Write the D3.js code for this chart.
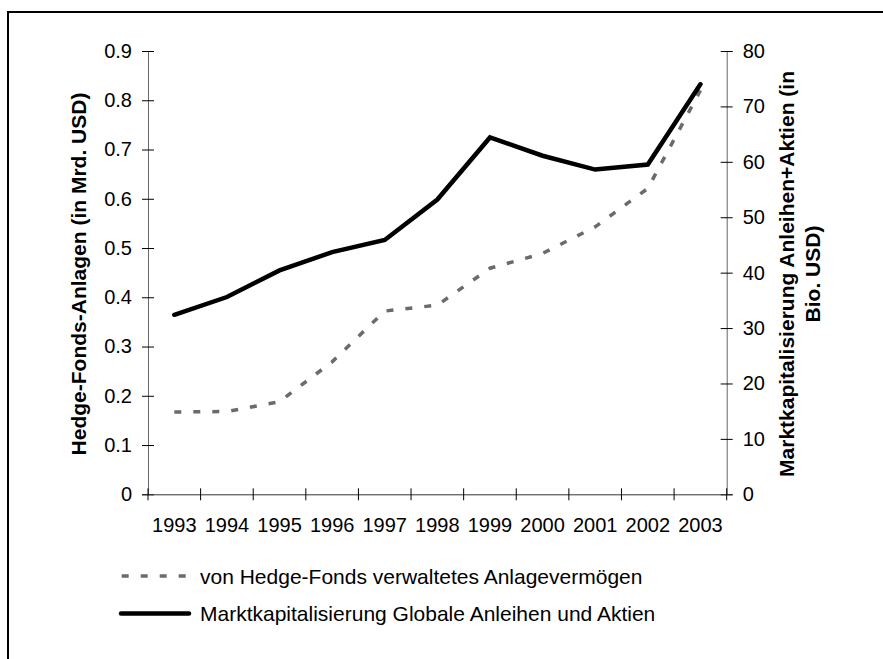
<!DOCTYPE html>
<html>
<head>
<meta charset="utf-8">
<script src="https://cdn.jsdelivr.net/npm/d3@7"></script>
<style>
  html, body { margin: 0; padding: 0; background: #fff; }
  svg { display: block; }
  text { font-family: Arial, "Liberation Sans", sans-serif; fill: #000; }
</style>
</head>
<body>
<svg id="chart" width="883" height="659"></svg>
<script>
// ---- data ----
const years = ["1993","1994","1995","1996","1997","1998","1999","2000","2001","2002","2003"];
const hedgeFunds = [0.167, 0.168, 0.188, 0.269, 0.372, 0.384, 0.459, 0.489, 0.543, 0.621, 0.82];
const marketCap = [32.4, 35.6, 40.4, 43.7, 45.9, 53.2, 64.4, 61.1, 58.6, 59.5, 74.0];
const leftTicks = [0, 0.1, 0.2, 0.3, 0.4, 0.5, 0.6, 0.7, 0.8, 0.9];
const rightTicks = [0, 10, 20, 30, 40, 50, 60, 70, 80];
const leftTitle = "Hedge-Fonds-Anlagen (in Mrd. USD)";
const rightTitle = ["Marktkapitalisierung Anleihen+Aktien (in", "Bio. USD)"];
const legendLabels = ["von Hedge-Fonds verwaltetes Anlagevermögen", "Marktkapitalisierung Globale Anleihen und Aktien"];

// ---- layout ----
const svg = d3.select("#chart");
const L = 148, R = 726.7, T = 51, B = 494.3;

const x = d3.scaleBand().domain(years).range([L, R]).padding(0);
const yL = d3.scaleLinear().domain([0, 0.9]).range([B, T]);
const yR = d3.scaleLinear().domain([0, 80]).range([B, T]);

// frame
svg.append("path")
  .attr("d", `M8,659 L8,12 L883,12`)
  .attr("fill", "none").attr("stroke", "#000").attr("stroke-width", 2);

// left axis
const gl = svg.append("g").attr("transform", `translate(${L},0)`)
  .call(d3.axisLeft(yL).tickValues(leftTicks).tickSize(6).tickPadding(10)
    .tickFormat(d => d === 0 ? "0" : d3.format(".1f")(d)));
gl.select(".domain").attr("stroke", "#666");
gl.selectAll(".tick line").attr("x1", 6).attr("stroke", "#000");
gl.selectAll(".tick text").style("font-size", "20px").attr("fill", "#000");

// right axis
const gr = svg.append("g").attr("transform", `translate(${R},0)`)
  .call(d3.axisRight(yR).tickValues(rightTicks).tickSize(6).tickPadding(10));
gr.select(".domain").attr("stroke", "#666");
gr.selectAll(".tick line").attr("x1", -6).attr("stroke", "#000");
gr.selectAll(".tick text").style("font-size", "20px").attr("fill", "#000");

// bottom axis (labels centred in categories, ticks between categories)
const gb = svg.append("g").attr("transform", `translate(0,${B})`)
  .call(d3.axisBottom(x).tickSize(0).tickPadding(24));
gb.select(".domain").attr("stroke", "#333");
gb.selectAll(".tick text").style("font-size", "20px").attr("fill", "#000");
const edges = years.map(y => x(y)).concat([x(years[years.length - 1]) + x.bandwidth()]);
gb.selectAll(".edge").data(edges).enter().append("line")
  .attr("class", "edge")
  .attr("x1", d => d).attr("x2", d => d)
  .attr("y1", -6).attr("y2", 6)
  .attr("stroke", "#000");

// axis titles
svg.append("text")
  .attr("transform", `translate(86,274) rotate(-90)`)
  .attr("text-anchor", "middle")
  .style("font-size", "21px").style("font-weight", "bold")
  .text(leftTitle);
rightTitle.forEach((t, i) => {
  svg.append("text")
    .attr("transform", `translate(${794 + i * 26},274) rotate(-90)`)
    .attr("text-anchor", "middle")
    .style("font-size", "21px").style("font-weight", "bold")
    .text(t);
});

// lines
const cx = d => x(d) + x.bandwidth() / 2;
const lineL = d3.line().x((d, i) => cx(years[i])).y(d => yL(d));
const lineR = d3.line().x((d, i) => cx(years[i])).y(d => yR(d));

svg.append("path")
  .datum(hedgeFunds)
  .attr("d", lineL)
  .attr("fill", "none")
  .attr("stroke", "#6b6b6b")
  .attr("stroke-width", 3.5)
  .attr("stroke-dasharray", "7,12");

svg.append("path")
  .datum(marketCap)
  .attr("d", lineR)
  .attr("fill", "none")
  .attr("stroke", "#000")
  .attr("stroke-width", 4.5)
  .attr("stroke-linecap", "round")
  .attr("stroke-linejoin", "miter");

// legend
const lg = svg.append("g");
lg.append("line")
  .attr("x1", 121.7).attr("x2", 190).attr("y1", 576).attr("y2", 576)
  .attr("stroke", "#6b6b6b").attr("stroke-width", 3.5).attr("stroke-dasharray", "7,12");
lg.append("line")
  .attr("x1", 121).attr("x2", 189).attr("y1", 613.5).attr("y2", 613.5)
  .attr("stroke", "#000").attr("stroke-width", 4.5).attr("stroke-linecap", "round");
legendLabels.forEach((t, i) => {
  lg.append("text")
    .attr("x", 200).attr("y", 576 + i * 37.5 + 7.5)
    .style("font-size", "21px")
    .text(t);
});
</script>
</body>
</html>
